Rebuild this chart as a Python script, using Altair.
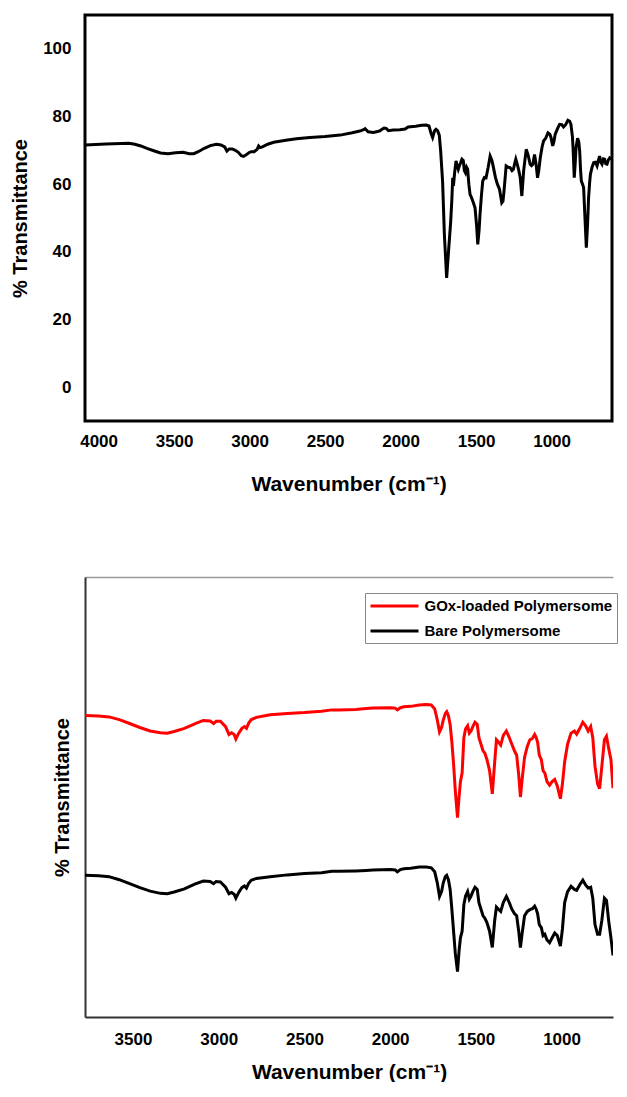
import altair as alt
import pandas as pd

FONT = "Liberation Sans"

# ---------------- top panel data ----------------
top_wn = [4090, 3950, 3800, 3760, 3720, 3680, 3630, 3590, 3540, 3490, 3440, 3400, 3370, 3340,
          3300, 3260, 3220, 3190, 3165, 3150, 3135, 3115, 3095, 3075, 3055, 3040, 3025, 3005,
          2990, 2970, 2950, 2940, 2930, 2915, 2880, 2840, 2760, 2690, 2600, 2500, 2400, 2320,
          2270, 2245, 2235, 2215, 2180, 2140, 2110, 2095, 2080, 2050, 2005, 1970, 1950, 1900,
          1860, 1830, 1812, 1798, 1788, 1775, 1766, 1755, 1744, 1735, 1722, 1710, 1695, 1682,
          1668, 1660, 1655, 1650, 1642, 1633, 1626, 1618, 1610, 1602, 1594, 1585, 1578, 1571,
          1563, 1556, 1548, 1540, 1530, 1522, 1507, 1497, 1489, 1480, 1474, 1465, 1456, 1445,
          1434, 1420, 1407, 1395, 1385, 1372, 1359, 1345, 1330, 1322, 1315, 1301, 1288, 1275,
          1262, 1253, 1245, 1237, 1228, 1219, 1208, 1197, 1185, 1168, 1155, 1142, 1133, 1124,
          1113, 1103, 1093, 1085, 1075, 1063, 1053, 1040, 1024, 1012, 1004, 993, 985, 976, 960,
          947, 932, 921, 908, 892, 880, 872, 862, 858, 850, 844, 838, 828, 820, 814, 808, 803,
          795, 788, 779, 770, 762, 755, 748, 743, 732, 721, 710, 699, 690, 682, 674, 666, 657,
          649, 641, 633, 624, 615, 600]
top_t = [71.6, 71.9, 72.1, 71.8, 71.3, 70.6, 69.8, 69.2, 69.0, 69.3, 69.4, 69.0, 69.0, 69.6,
         70.6, 71.4, 71.8, 71.6, 71.0, 69.8, 70.4, 70.4, 70.0, 69.4, 68.4, 68.2, 68.6, 69.3,
         69.6, 69.6, 70.3, 71.3, 70.8, 71.0, 71.8, 72.4, 73.0, 73.4, 73.8, 74.1, 74.5, 75.2,
         75.7, 76.1, 76.4, 75.5, 75.3, 75.7, 76.6, 76.5, 75.8, 76.0, 76.1, 76.3, 76.9, 77.1,
         77.4, 77.5, 77.2, 75.0, 73.8, 75.8, 76.2, 75.8, 74.5, 70.0, 60.9, 45.0, 32.3, 40.5,
         49.1, 56.0, 61.9, 59.5, 63.5, 66.9, 65.5, 64.4, 65.5, 66.4, 67.4, 67.0, 64.0, 63.4,
         65.0, 64.4, 60.0, 57.0, 56.0, 55.0, 53.0, 48.0, 42.2, 46.5, 51.1, 56.5, 60.9, 62.0,
         61.9, 65.0, 68.3, 67.0, 64.9, 62.0, 60.0, 58.5, 54.5, 55.0, 58.0, 65.4, 65.0, 64.9,
         64.0, 64.4, 66.0, 67.4, 66.0, 64.4, 62.0, 56.5, 64.0, 70.3, 68.5, 65.9, 65.5, 65.9,
         68.8, 66.0, 61.9, 64.0, 67.8, 71.0, 72.8, 73.5, 75.2, 74.8, 73.8, 71.3, 72.5, 74.8, 76.5,
         77.7, 77.6, 76.9, 77.5, 78.9, 78.6, 77.7, 74.0, 70.8, 61.9, 66.0, 70.8, 73.6, 72.5, 69.8,
         64.0, 60.9, 60.0, 59.0, 50.0, 41.2, 48.0, 56.0, 60.5, 62.9, 65.0, 66.4, 66.5, 65.4, 67.0,
         68.3, 66.5, 65.9, 67.5, 67.4, 66.0, 65.9, 67.2, 67.8, 67.4]
top_ticks = [4000, 3500, 3000, 2500, 2000, 1500, 1000]
top_yticks = [0, 20, 40, 60, 80, 100]

# ---------------- bottom panel data ----------------
bot_wn = [3780, 3700, 3640, 3580, 3520, 3460, 3400, 3340, 3300, 3260, 3200, 3140, 3090, 3050,
          3030, 3015, 2990, 2960, 2940, 2925, 2910, 2900, 2885, 2865, 2850, 2838, 2825, 2810,
          2780, 2700, 2600, 2500, 2400, 2340, 2300, 2200, 2140, 2100, 2000, 1970, 1958, 1940,
          1920, 1880, 1830, 1790, 1760, 1740, 1725, 1712, 1700, 1690, 1678, 1670, 1660, 1650,
          1640, 1630, 1620, 1607, 1598, 1590, 1580, 1570, 1560, 1548, 1538, 1528, 1518, 1505,
          1492, 1482, 1470, 1458, 1448, 1436, 1420, 1404, 1390, 1380, 1368, 1355, 1340, 1322,
          1305, 1290, 1275, 1262, 1250, 1240, 1230, 1216, 1200, 1185, 1170, 1157, 1148, 1140,
          1130, 1118, 1108, 1098, 1085, 1070, 1055, 1040, 1025, 1007, 995, 982, 965, 945, 925,
          912, 895, 876, 860, 845, 830, 818, 805, 790, 778, 765, 750, 738, 725, 712, 700, 690,
          680, 668, 660, 645, 630, 620]
gox_t = [68.5, 68.4, 68.2, 67.6, 66.7, 65.8, 65.0, 64.6, 64.5, 64.9, 65.6, 66.6, 67.4, 67.3,
         66.7, 67.2, 67.2, 66.0, 64.2, 64.6, 64.2, 63.2, 64.4, 65.6, 66.0, 65.6, 66.8, 67.6,
         68.1, 68.7, 69.0, 69.2, 69.5, 69.8, 69.8, 69.9, 70.1, 70.2, 70.3, 70.2, 69.8, 70.3,
         70.5, 70.6, 70.9, 71.0, 70.9, 70.0, 67.5, 64.8, 65.8, 67.5, 69.0, 69.4, 68.5, 66.5,
         62.5, 57.5, 51.5, 45.3, 50.0, 53.5, 55.5, 63.5, 65.5, 66.2, 64.5, 65.0, 66.0, 67.0,
         66.5, 63.5, 62.0, 60.5, 60.0, 58.6, 56.0, 50.7, 58.0, 63.0, 62.5, 61.8, 64.0, 65.0,
         63.5, 62.0, 60.5, 59.5, 55.0, 50.0, 54.0, 59.0, 61.5, 63.0, 63.3, 64.2, 63.5, 62.5,
         59.5, 58.5, 56.0, 55.5, 53.5, 52.7, 53.5, 54.0, 52.5, 49.6, 53.0, 58.0, 62.0, 64.5, 65.0,
         64.3, 65.5, 67.0, 66.2, 65.0, 66.0, 63.5, 57.0, 53.0, 51.9, 57.0, 63.0, 63.8, 61.0, 58.5,
         52.0, 45.3, 52.0, 58.0, 60.1, 61.5, 61.0, 61.2]
bare_t = [32.2, 32.1, 31.9, 31.2, 30.3, 29.4, 28.6, 28.1, 28.0, 28.4, 29.1, 30.2, 30.9, 30.8,
          30.3, 30.8, 30.7, 29.5, 28.0, 28.3, 27.9, 27.0, 28.2, 29.4, 29.8, 29.3, 30.4, 31.1,
          31.5, 31.9, 32.3, 32.6, 32.8, 33.1, 33.1, 33.2, 33.3, 33.4, 33.5, 33.4, 33.0, 33.5,
          33.7, 33.8, 34.1, 34.1, 33.9, 33.0, 30.5, 27.4, 28.5, 30.5, 31.9, 32.2, 31.2, 29.0,
          24.5, 19.5, 14.5, 10.3, 15.0, 18.0, 19.5, 25.5, 27.5, 28.5, 26.8, 27.5, 28.5, 29.5,
          29.0, 26.0, 24.5, 23.0, 22.5, 21.5, 19.5, 15.8, 22.0, 25.0, 24.5, 24.0, 26.0, 27.4,
          26.0, 24.5, 23.5, 23.0, 19.5, 15.8, 19.0, 23.0, 24.0, 24.4, 24.6, 25.2, 24.5, 23.5,
          21.0, 20.3, 18.5, 18.8, 17.5, 16.9, 18.0, 19.1, 18.5, 16.1, 20.0, 26.0, 28.5, 29.7, 29.0,
          28.8, 30.0, 31.1, 30.0, 29.3, 29.5, 27.0, 21.0, 18.8, 18.8, 22.0, 27.0, 26.5, 21.8, 18.0,
          14.0, 10.9, 16.0, 21.0, 21.8, 23.3, 23.0, 23.2]
series_names = ["GOx-loaded Polymersome", "Bare Polymersome"]
series_colors = ["#ff0000", "#000000"]
bot_ticks = [3500, 3000, 2500, 2000, 1500, 1000]
BOT_MIN = 700  # right end of the visible bottom-panel window

df_top = pd.DataFrame({"wn": top_wn, "t": top_t})
df_bot = pd.concat([
    pd.DataFrame({"wn": bot_wn, "t": gox_t, "series": series_names[0]}),
    pd.DataFrame({"wn": bot_wn, "t": bare_t, "series": series_names[1]}),
], ignore_index=True)

X_TITLE = "Wavenumber (cm\u207b\u00b9)"
Y_TITLE = "% Transmittance"

lab = dict(labelFont=FONT, labelFontSize=17, labelFontWeight="bold", labelColor="black",
           titleFont=FONT, titleFontWeight="bold", titleColor="black", ticks=False, grid=False)

top = alt.Chart(df_top).mark_line(color="black", strokeWidth=3, clip=True).encode(
    x=alt.X("wn:Q",
            scale=alt.Scale(domain=[600, 4090], reverse=True, nice=False, zero=False),
            axis=alt.Axis(values=top_ticks, format="d", title=X_TITLE, domain=False,
                          labelPadding=12, titlePadding=24, titleFontSize=21, **lab)),
    y=alt.Y("t:Q",
            scale=alt.Scale(domain=[-10, 110], nice=False, zero=False),
            axis=alt.Axis(values=top_yticks, format="d", title=Y_TITLE, domain=False,
                          labelPadding=14, titlePadding=12, titleFontSize=20, **lab)),
).properties(width=527, height=406,
             view=alt.ViewBackground(stroke="black", strokeWidth=3))

bx = alt.Scale(domain=[BOT_MIN, 3780], reverse=True, nice=False, zero=False)

lines = alt.Chart(df_bot).transform_filter(alt.datum.wn >= BOT_MIN).mark_line(
    strokeWidth=3, clip=True).encode(
    x=alt.X("wn:Q", scale=bx,
            axis=alt.Axis(values=bot_ticks, format="d", title=X_TITLE, domainColor="#333333",
                          domainWidth=2, labelPadding=14, titlePadding=14, titleFontSize=21, **lab)),
    y=alt.Y("t:Q", scale=alt.Scale(domain=[0, 100], nice=False, zero=False),
            axis=alt.Axis(labels=False, ticks=False, grid=False, title=Y_TITLE,
                          domainColor="#333333", domainWidth=2, titlePadding=13,
                          titleFont=FONT, titleFontSize=20, titleFontWeight="bold",
                          titleColor="black")),
    color=alt.Color("series:N",
                    scale=alt.Scale(domain=series_names, range=series_colors),
                    legend=alt.Legend(title=None, orient="none", legendX=280, legendY=578,
                                      symbolType="M-3.2,0H3.2", symbolSize=225,
                                      symbolOffset=16.5, symbolStrokeWidth=3,
                                      labelFont=FONT, labelFontSize=15,
                                      labelFontWeight="bold", labelColor="black",
                                      labelLimit=260, strokeColor="#888888", padding=4,
                                      rowPadding=8, labelOffset=21, fillColor="white")),
)

topline = alt.Chart(df_bot).transform_filter(alt.datum.wn >= BOT_MIN).mark_point(
    opacity=0, size=1).encode(
    x=alt.X("wn:Q", scale=bx,
            axis=alt.Axis(orient="top", labels=False, ticks=False, grid=False, title=None,
                          domainColor="#999999", domainWidth=1.5)),
)

bottom = alt.layer(lines, topline).resolve_axis(x="independent").properties(
    width=528, height=440)

chart = alt.vconcat(top, bottom, spacing=81).properties(
    padding={"left": 1, "top": 5, "right": 0, "bottom": 0}
).configure_view(strokeWidth=0)

chart.save("out.html", embed_options={"renderer": "svg", "actions": False})
